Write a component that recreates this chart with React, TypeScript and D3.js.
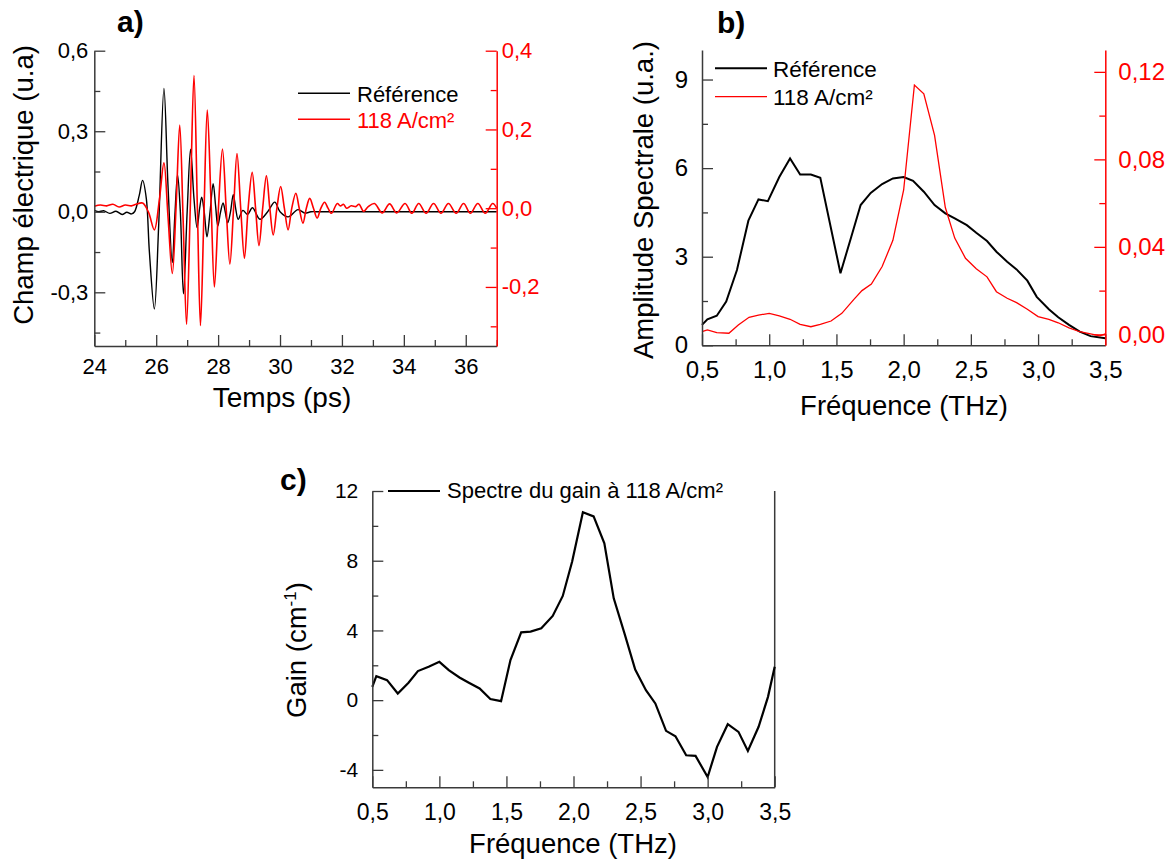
import React, { useEffect, useRef } from 'react';
import * as d3 from 'd3';

// ---------- Panel a: time-domain fields ----------
const timeRefT = [24.0, 24.15, 24.3, 24.5, 24.7, 24.9, 25.05, 25.2, 25.3, 25.45, 25.56, 25.68, 25.78, 25.94, 26.08, 26.25, 26.38, 26.52, 26.6, 26.69, 26.78, 26.88, 27.0, 27.11, 27.22, 27.32, 27.4, 27.47, 27.55, 27.64, 27.74, 27.84, 27.92, 27.99, 28.08, 28.16, 28.23, 28.31, 28.4, 28.49, 28.57, 28.65, 28.8, 28.95, 29.11, 29.35, 29.6, 29.83, 30.0, 30.26, 30.58, 30.8, 31.0, 31.3, 37.0];
const timeRefV = [0.005, 0.0, 0.004, -0.006, 0.002, -0.01, -0.002, -0.008, 0.0, 0.06, 0.117, 0.05, -0.15, -0.362, -0.05, 0.459, 0.1, -0.189, -0.02, 0.138, 0.0, -0.306, 0.0, 0.233, 0.05, -0.059, 0.01, 0.054, 0.0, -0.093, 0.0, 0.105, 0.02, -0.053, 0.0, 0.033, 0.0, -0.041, 0.0, 0.064, 0.01, -0.028, 0.005, -0.01, 0.015, -0.028, 0.0, 0.036, 0.0, -0.019, 0.008, -0.005, 0.0, 0.0, 0.0];

const time118T = [24.0, 24.2, 24.4, 24.6, 24.8, 25.0, 25.2, 25.35, 25.56, 25.75, 25.94, 26.1, 26.25, 26.38, 26.52, 26.64, 26.76, 26.87, 26.98, 27.1, 27.22, 27.33, 27.43, 27.54, 27.65, 27.77, 27.88, 28.01, 28.14, 28.26, 28.38, 28.5, 28.61, 28.73, 28.85, 28.97, 29.1, 29.21, 29.32, 29.44, 29.56, 29.67, 29.78, 29.9, 30.02, 30.14, 30.26, 30.38, 30.51, 30.62, 30.74, 30.85, 30.96, 31.08, 31.2, 31.32, 31.44, 31.55, 31.66, 31.85, 31.95, 32.05, 32.15, 32.3, 32.45, 32.55, 32.7, 32.85, 33.05, 33.3, 33.54, 33.77, 34.04, 34.26, 34.48, 34.72, 34.96, 35.2, 35.44, 35.69, 35.93, 36.15, 36.39, 36.63, 36.87, 37.0];
const time118V = [0.005, 0.008, 0.006, 0.01, 0.003, 0.008, 0.006, 0.01, 0.013, -0.01, -0.055, 0.02, 0.115, -0.02, -0.166, 0.0, 0.211, -0.03, -0.295, 0.0, 0.337, 0.0, -0.298, -0.02, 0.249, 0.02, -0.2, 0.0, 0.15, 0.0, -0.142, 0.0, 0.139, 0.0, -0.127, 0.0, 0.091, 0.0, -0.095, 0.0, 0.082, 0.0, -0.068, 0.0, 0.055, 0.0, -0.055, 0.0, 0.038, 0.0, -0.038, 0.0, 0.025, 0.0, -0.025, 0.0, 0.015, 0.0, -0.013, 0.012, 0.006, 0.01, 0.0, 0.006, 0.004, 0.01, -0.008, 0.004, 0.012, -0.012, 0.011, -0.012, 0.012, -0.013, 0.012, -0.013, 0.012, -0.013, 0.012, -0.013, 0.012, -0.013, 0.012, -0.013, 0.012, 0.0];

// ---------- Panel b: spectra ----------
const specRefF = [0.5, 0.54, 0.61, 0.68, 0.76, 0.845, 0.92, 0.99, 1.075, 1.155, 1.23, 1.31, 1.38, 1.53, 1.61, 1.68, 1.755, 1.84, 1.92, 2.0, 2.07, 2.15, 2.23, 2.31, 2.38, 2.47, 2.54, 2.62, 2.69, 2.77, 2.84, 2.92, 2.99, 3.08, 3.15, 3.23, 3.31, 3.39, 3.5];
const specRefA = [0.69, 0.88, 1.0, 1.48, 2.55, 4.22, 4.94, 4.88, 5.7, 6.33, 5.78, 5.78, 5.67, 2.44, 3.67, 4.75, 5.16, 5.46, 5.65, 5.7, 5.57, 5.2, 4.75, 4.47, 4.3, 4.07, 3.81, 3.53, 3.17, 2.83, 2.57, 2.19, 1.64, 1.22, 0.95, 0.69, 0.46, 0.31, 0.24];

const spec118F = [0.5, 0.54, 0.61, 0.7, 0.77, 0.85, 0.92, 1.0, 1.075, 1.155, 1.23, 1.31, 1.38, 1.46, 1.54, 1.63, 1.69, 1.76, 1.84, 1.92, 2.0, 2.08, 2.15, 2.23, 2.31, 2.38, 2.46, 2.54, 2.62, 2.69, 2.77, 2.84, 2.92, 3.0, 3.08, 3.15, 3.23, 3.31, 3.39, 3.46, 3.5];
const spec118A = [0.0012, 0.002, 0.0008, 0.0005, 0.0043, 0.0078, 0.0088, 0.0096, 0.0084, 0.0069, 0.0046, 0.0035, 0.0046, 0.0061, 0.0096, 0.016, 0.02, 0.023, 0.031, 0.043, 0.066, 0.114, 0.11, 0.091, 0.058, 0.044, 0.0348, 0.03, 0.0263, 0.0195, 0.0165, 0.0145, 0.0115, 0.0081, 0.0069, 0.0053, 0.003, 0.0012, 0.0002, -0.0007, 0.0002];

// ---------- Panel c: gain ----------
const gainF = [0.5, 0.53, 0.61, 0.69, 0.77, 0.84, 0.92, 1.0, 1.07, 1.15, 1.22, 1.3, 1.38, 1.46, 1.53, 1.61, 1.68, 1.76, 1.845, 1.92, 1.99, 2.07, 2.15, 2.23, 2.3, 2.38, 2.46, 2.54, 2.61, 2.69, 2.76, 2.84, 2.91, 3.0, 3.07, 3.15, 3.23, 3.3, 3.38, 3.45, 3.5];
const gainG = [0.76, 1.38, 1.15, 0.38, 1.0, 1.67, 1.92, 2.2, 1.72, 1.3, 1.0, 0.67, 0.06, -0.06, 2.3, 3.89, 3.93, 4.12, 4.83, 5.98, 7.95, 10.78, 10.54, 9.0, 5.84, 3.83, 1.76, 0.57, -0.19, -1.76, -2.07, -3.16, -3.2, -4.41, -2.68, -1.38, -1.82, -2.91, -1.53, 0.19, 1.92];

// ---------- Tick values ----------
const aXMajor = [24, 26, 28, 30, 32, 34, 36];
const aXMinor = [25, 27, 29, 31, 33, 35, 37];
const aYMajor = [-0.3, 0, 0.3, 0.6];
const aYMinor = [-0.45, -0.15, 0.15, 0.45];
const aY2Major = [-0.2, 0, 0.2, 0.4];
const aY2Minor = [-0.3, -0.1, 0.1, 0.3];
const fMajor = [0.5, 1.0, 1.5, 2.0, 2.5, 3.0, 3.5];
const fMinor = [0.75, 1.25, 1.75, 2.25, 2.75, 3.25];
const bYMajor = [0, 3, 6, 9];
const bYMinor = [1.5, 4.5, 7.5];
const bY2Major = [0, 0.04, 0.08, 0.12];
const bY2Minor = [0.02, 0.06, 0.1];
const cYMajor = [-4, 0, 4, 8, 12];
const cYMinor = [-2, 2, 6, 10];

const FONT = "'Liberation Sans', Arial, Helvetica, sans-serif";
const RED = '#ff0000';
const AXIS = '#3a3a3a';

const comma = (p: number) => (v: number) => d3.format(`.${p}f`)(v).replace('.', ',').replace('\u2212', '-');
const intFmt = (v: number) => d3.format('d')(v).replace('\u2212', '-');

// layout
const A = { l: 94.3, r: 496.7, t: 50.7, b: 346 };
const B = { l: 702, r: 1105.3, t: 50, b: 345.3 };
const C = { l: 372.3, r: 774.7, t: 491, b: 787.3 };

const axA = d3.scaleLinear().domain([24, 37]).range([A.l, A.r]);
const ayA = d3.scaleLinear().domain([-0.5, 0.6]).range([A.b, A.t]);
const ay2A = d3.scaleLinear().domain([-0.35, 0.4]).range([A.b, A.t]);

const axB = d3.scaleLinear().domain([0.5, 3.5]).range([B.l, B.r]);
const ayB = d3.scaleLinear().domain([0, 10]).range([B.b, B.t]);
const ay2B = d3.scaleLinear().domain([-0.005, 0.13]).range([B.b, B.t]);

const axC = d3.scaleLinear().domain([0.5, 3.5]).range([C.l, C.r]);
const ayC = d3.scaleLinear().domain([-5, 12]).range([C.b, C.t]);

type AxisSpec = {
  kind: 'left' | 'right' | 'bottom';
  scale: d3.ScaleLinear<number, number>;
  at: number;
  major: number[];
  minor: number[];
  fmt: (v: number) => string;
  color: string;
  textColor: string;
  fontSize: number;
  pad: number;
};

function drawAxis(g: SVGGElement, s: AxisSpec) {
  const sel = d3.select(g);
  sel.selectAll('*').remove();
  const make = (sc: d3.ScaleLinear<number, number>) =>
    s.kind === 'left' ? d3.axisLeft(sc) : s.kind === 'right' ? d3.axisRight(sc) : d3.axisBottom(sc);
  const tr = s.kind === 'bottom' ? `translate(0,${s.at})` : `translate(${s.at},0)`;
  const gMaj = sel.append('g').attr('transform', tr);
  gMaj.call(
    make(s.scale).tickValues(s.major).tickSizeInner(-11).tickSizeOuter(0).tickPadding(s.pad).tickFormat(s.fmt as any) as any
  );
  const gMin = sel.append('g').attr('transform', tr);
  gMin.call(make(s.scale).tickValues(s.minor).tickSizeInner(-6).tickSizeOuter(0).tickFormat(() => '') as any);
  gMin.select('.domain').remove();
  sel.attr('color', s.color);
  sel.selectAll('.domain').attr('stroke-width', 1.5);
  sel.selectAll('.tick line').attr('stroke-width', 1.3);
  sel
    .selectAll('text')
    .attr('font-family', FONT)
    .attr('font-size', s.fontSize)
    .attr('fill', s.textColor);
}

const lineGen = (xs: d3.ScaleLinear<number, number>, ys: d3.ScaleLinear<number, number>, curve: d3.CurveFactory) =>
  d3.line<[number, number]>().x((d) => xs(d[0])).y((d) => ys(d[1])).curve(curve);

const zip = (a: number[], b: number[]): [number, number][] => a.map((v, i) => [v, b[i]]);

export default function App() {
  const refs = useRef<(SVGGElement | null)[]>([]);

  const axes: AxisSpec[] = [
    { kind: 'bottom', scale: axA, at: A.b, major: aXMajor, minor: aXMinor, fmt: intFmt, color: AXIS, textColor: '#000', fontSize: 22, pad: 12 },
    { kind: 'left', scale: ayA, at: A.l, major: aYMajor, minor: aYMinor, fmt: comma(1), color: AXIS, textColor: '#000', fontSize: 22, pad: 6 },
    { kind: 'right', scale: ay2A, at: A.r, major: aY2Major, minor: aY2Minor, fmt: comma(1), color: RED, textColor: RED, fontSize: 22, pad: 5 },
    { kind: 'bottom', scale: axB, at: B.b, major: fMajor, minor: fMinor, fmt: comma(1), color: AXIS, textColor: '#000', fontSize: 24, pad: 16 },
    { kind: 'left', scale: ayB, at: B.l, major: bYMajor, minor: bYMinor, fmt: intFmt, color: AXIS, textColor: '#000', fontSize: 24, pad: 14 },
    { kind: 'right', scale: ay2B, at: B.r, major: bY2Major, minor: bY2Minor, fmt: comma(2), color: RED, textColor: RED, fontSize: 24, pad: 13 },
    { kind: 'bottom', scale: axC, at: C.b, major: fMajor, minor: fMinor, fmt: comma(1), color: AXIS, textColor: '#000', fontSize: 23, pad: 16 },
    { kind: 'left', scale: ayC, at: C.l, major: cYMajor, minor: cYMinor, fmt: intFmt, color: AXIS, textColor: '#000', fontSize: 21, pad: 14 },
  ];

  useEffect(() => {
    axes.forEach((s, i) => {
      const g = refs.current[i];
      if (g) drawAxis(g, s);
    });
  }, []);

  const pathRefA = lineGen(axA, ayA, d3.curveCatmullRom)(zip(timeRefT, timeRefV)) || '';
  const path118A = lineGen(axA, ay2A, d3.curveCatmullRom)(zip(time118T, time118V)) || '';
  const pathRefB = lineGen(axB, ayB, d3.curveLinear)(zip(specRefF, specRefA)) || '';
  const path118B = lineGen(axB, ay2B, d3.curveLinear)(zip(spec118F, spec118A)) || '';
  const pathC = lineGen(axC, ayC, d3.curveLinear)(zip(gainF, gainG)) || '';

  const txt = { fontFamily: FONT } as React.CSSProperties;

  return (
    <svg width={1172} height={859} style={{ position: 'absolute', left: 0, top: 0, background: '#fff' }}>
      <rect x={0} y={0} width={1172} height={859} fill="#fff" />

      {/* Panel a */}
      <path d={pathRefA} fill="none" stroke="#000" strokeWidth={1.4} />
      <path d={path118A} fill="none" stroke={RED} strokeWidth={1.6} />
      <text x={117} y={32} fontSize={30} fontWeight="bold" style={txt}>a)</text>
      <line x1={298} x2={350} y1={93.3} y2={93.3} stroke="#000" strokeWidth={1.5} />
      <text x={357} y={101.5} fontSize={22} style={txt}>Référence</text>
      <line x1={298} x2={350} y1={119.3} y2={119.3} stroke={RED} strokeWidth={1.5} />
      <text x={357} y={127.5} fontSize={22} fill={RED} style={txt}>118 A/cm²</text>
      <text x={282} y={407} fontSize={28} textAnchor="middle" style={txt}>Temps (ps)</text>
      <text transform="translate(33,185) rotate(-90)" fontSize={27.5} textAnchor="middle" style={txt}>Champ électrique (u.a)</text>

      {/* Panel b */}
      <path d={pathRefB} fill="none" stroke="#000" strokeWidth={2} />
      <path d={path118B} fill="none" stroke={RED} strokeWidth={1.3} />
      <text x={717} y={33} fontSize={30} fontWeight="bold" style={txt}>b)</text>
      <line x1={715} x2={767} y1={68.3} y2={68.3} stroke="#000" strokeWidth={2} />
      <text x={773} y={77} fontSize={22.5} style={txt}>Référence</text>
      <line x1={715} x2={767} y1={96.7} y2={96.7} stroke={RED} strokeWidth={1.3} />
      <text x={773} y={105} fontSize={22.5} style={txt}>118 A/cm²</text>
      <text x={904} y={415} fontSize={27.5} textAnchor="middle" style={txt}>Fréquence (THz)</text>
      <text transform="translate(653,200) rotate(-90)" fontSize={27.5} textAnchor="middle" style={txt}>Amplitude Spectrale (u.a.)</text>

      {/* Panel c */}
      <line x1={C.r} x2={C.r} y1={C.t} y2={C.b} stroke={AXIS} strokeWidth={1.5} />
      <path d={pathC} fill="none" stroke="#000" strokeWidth={2.2} />
      <text x={280} y={490} fontSize={30} fontWeight="bold" style={txt}>c)</text>
      <line x1={388} x2={440} y1={491} y2={491} stroke="#000" strokeWidth={2} />
      <text x={447} y={498} fontSize={22} style={txt}>Spectre du gain à 118 A/cm²</text>
      <text x={573} y={853} fontSize={27.5} textAnchor="middle" style={txt}>Fréquence (THz)</text>
      <text transform="translate(306,650) rotate(-90)" fontSize={27.5} textAnchor="middle" style={txt}>
        Gain (cm<tspan fontSize={17} dy={-10}>-1</tspan><tspan dy={10}>)</tspan>
      </text>

      {axes.map((_, i) => (
        <g key={i} ref={(el) => { refs.current[i] = el; }} />
      ))}
    </svg>
  );
}
